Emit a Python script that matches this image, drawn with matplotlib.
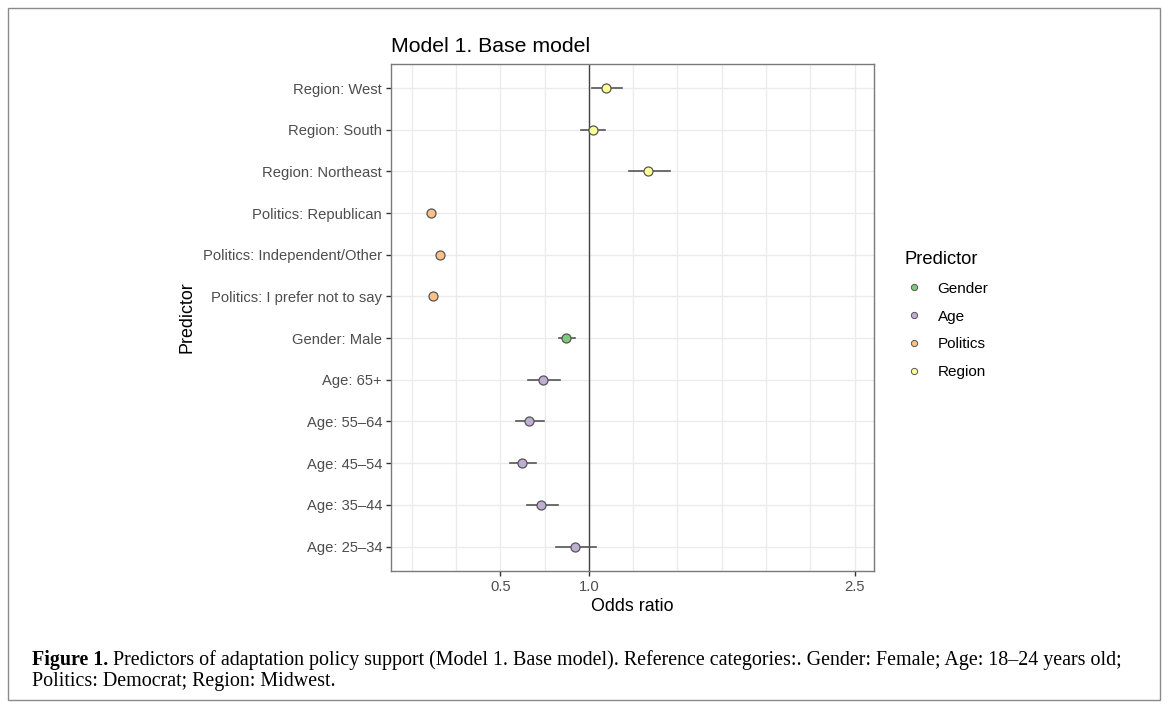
import matplotlib.pyplot as plt
from matplotlib.lines import Line2D
from matplotlib.patches import Rectangle

plt.rcParams["font.family"] = ["Liberation Sans", "DejaVu Sans"]

# rows, top to bottom
predictors = [
    "Region: West", "Region: South", "Region: Northeast",
    "Politics: Republican", "Politics: Independent/Other", "Politics: I prefer not to say",
    "Gender: Male",
    "Age: 65+", "Age: 55\u201364", "Age: 45\u201354", "Age: 35\u201344", "Age: 25\u201334",
]
groups = ["Region", "Region", "Region", "Politics", "Politics", "Politics",
          "Gender", "Age", "Age", "Age", "Age", "Age"]
odds = [1.096, 1.023, 1.336, 0.106, 0.156, 0.117, 0.872, 0.740, 0.661, 0.624, 0.731, 0.921]
ci_low = [1.017, 0.955, 1.226, 0.100, 0.149, 0.110, 0.829, 0.658, 0.588, 0.554, 0.648, 0.814]
ci_high = [1.185, 1.093, 1.456, 0.112, 0.163, 0.124, 0.919, 0.834, 0.744, 0.700, 0.825, 1.042]

legend_order = ["Gender", "Age", "Politics", "Region"]
colors = {"Gender": "#7fc97f", "Age": "#beaed4", "Politics": "#fdc086", "Region": "#ffff99"}

caption_bold = "Figure 1."
caption_1 = (" Predictors of adaptation policy support (Model 1. Base model). "
             "Reference categories:. Gender: Female; Age: 18\u201324 years old;")
caption_2 = "Politics: Democrat; Region: Midwest."

fig = plt.figure(figsize=(11.68, 7.08), dpi=100)
ax = fig.add_axes([0.3348, 0.1939, 0.4135, 0.7153])

n = len(predictors)
ypos = [n - 1 - i for i in range(n)]

# grid
for gx in [0.25 * k for k in range(0, 11)]:
    ax.axvline(gx, color="#ebebeb", lw=1.0, zorder=0)
for y in ypos:
    ax.axhline(y, color="#ebebeb", lw=1.0, zorder=0)

ax.axvline(1.0, color="#444444", lw=1.0, zorder=1)

for y, o, lo, hi, g in zip(ypos, odds, ci_low, ci_high, groups):
    ax.plot([lo, hi], [y, y], color="#555555", lw=1.2, zorder=2)
    ax.plot(o, y, "o", ms=6.5, mfc=colors[g], mec="#555555", mew=0.9, zorder=3)

ax.set_xlim(-0.118, 2.61)
ax.set_ylim(-0.58, n - 1 + 0.57)
ax.set_xticks([0.5, 1.0, 2.5])
ax.set_xticklabels(["0.5", "1.0", "2.5"])
ax.set_yticks(ypos)
ax.set_yticklabels(predictors)
ax.tick_params(axis="both", labelsize=10.6, colors="#333333", labelcolor="#4d4d4d",
               length=3.5, width=1.0, pad=3)
for sp in ax.spines.values():
    sp.set_color("#7a7a7a")
    sp.set_linewidth(1.0)

ax.set_xlabel("Odds ratio", fontsize=12.9, labelpad=3)
ax.set_ylabel("Predictor", fontsize=12.9, labelpad=5)
ax.set_title("Model 1. Base model", fontsize=15.3, loc="left", pad=9)

handles = [Line2D([], [], ls="", marker="o", ms=4.5, mfc=colors[g], mec="#555555", mew=0.7)
           for g in legend_order]
leg = fig.legend(handles, legend_order, title="Predictor", loc="upper left",
                 bbox_to_anchor=(0.7695, 0.654), frameon=False, fontsize=11,
                 title_fontsize=13.2, labelspacing=0.9, handlelength=1.2,
                 handletextpad=0.95, borderaxespad=0)
leg._legend_box.align = "left"

# outer frame
fig.patches.append(Rectangle((8 / 1168, 8 / 708), 1152 / 1168, 692 / 708,
                             transform=fig.transFigure, fill=False,
                             ec="#8a8a8a", lw=1.0))

serif = ["Liberation Serif", "DejaVu Serif"]
t1 = fig.text(32 / 1168, 1 - 665 / 708, caption_bold, fontsize=14.4,
              fontweight="bold", family=serif)
ax.annotate(caption_1, xy=(1, 0), xycoords=t1, va="bottom", ha="left",
            fontsize=14.4, family=serif, annotation_clip=False)
fig.text(32 / 1168, 1 - 686 / 708, caption_2, fontsize=14.4, family=serif)

fig.savefig("out.png", dpi=100)
